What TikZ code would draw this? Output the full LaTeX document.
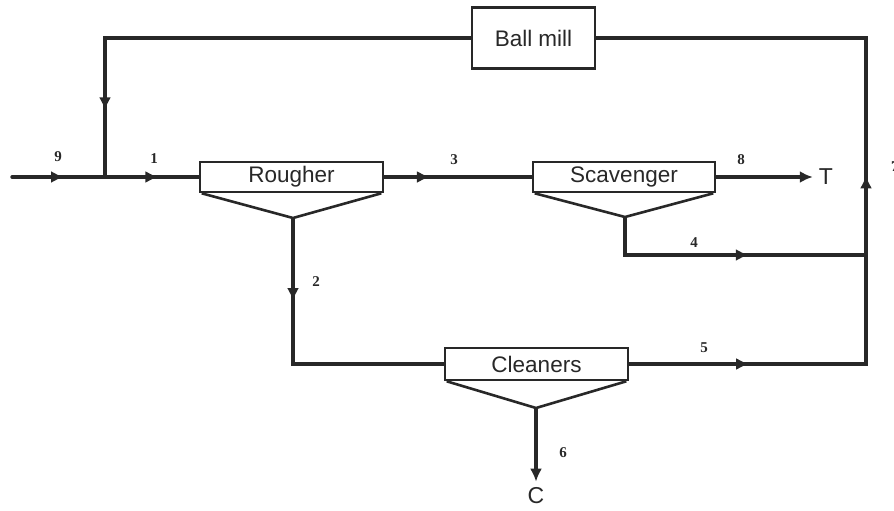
\documentclass[tikz,border=0pt]{standalone}
\usepackage{fontspec}
\setmainfont{Liberation Sans}
\newfontfamily\numfont{Liberation Serif}
\usetikzlibrary{arrows.meta,decorations.markings}
\definecolor{ink}{RGB}{40,40,40}
\tikzset{
  flow/.style={draw=ink,line width=3.4pt,line join=miter},
  tip/.style={-{Latex[length=13pt,width=12pt]}},
  arrowat/.style={postaction={decorate,decoration={markings,
      mark=at position #1 with {\arrow{Latex[length=13pt,width=12pt]}}}}},
  twoarrows/.style 2 args={postaction={decorate,decoration={markings,
      mark=at position #1 with {\arrow{Latex[length=13pt,width=12pt]}},
      mark=at position #2 with {\arrow{Latex[length=13pt,width=12pt]}}}}},
  unit/.style={draw=ink,line width=2.6pt,inner sep=0pt,
      font=\fontsize{22.5pt}{24pt}\selectfont,text=ink},
  hopper/.style={draw=ink,line width=2.6pt,line join=miter},
  num/.style={font=\numfont\bfseries\fontsize{15pt}{16pt}\selectfont,text=ink,inner sep=0pt},
  endlab/.style={font=\fontsize{23pt}{24pt}\selectfont,text=ink,inner sep=0pt},
}
\begin{document}
\begin{tikzpicture}[x=1pt,y=-1pt]
\useasboundingbox (0,0) rectangle (894,511);
% units
\node[unit,minimum width=183pt,minimum height=30pt] (rough) at (291.5,177) {Rougher};
\node[unit,minimum width=182pt,minimum height=30pt] (scav) at (624,177) {Scavenger};
\node[unit,minimum width=183pt,minimum height=32pt] (clean) at (536.5,364) {Cleaners};
\node[unit,minimum width=123pt,minimum height=61pt] (mill) at (533.5,38) {Ball mill};
% hopper apexes
\coordinate (rA) at (293,218);
\coordinate (sA) at (625,217);
\coordinate (cA) at (536,408);
\draw[hopper] ([xshift=3pt]rough.south west) -- (rA) -- ([xshift=-3pt]rough.south east);
\draw[hopper] ([xshift=3pt]scav.south west) -- (sA) -- ([xshift=-3pt]scav.south east);
\draw[hopper] ([xshift=3pt]clean.south west) -- (cA) -- ([xshift=-3pt]clean.south east);
% end nodes
\node[endlab] (T) at (826,177) {T};
\node[endlab] (C) at (536,496) {C};
% routing coordinates
\coordinate (in) at (12,177);
\coordinate (j) at (105,177);
\coordinate (tl) at (105,38);
\coordinate (tr) at (866,38);
\coordinate (r4) at (866,255);
\coordinate (r5) at (866,364);
% streams
\draw[flow,line cap=round,arrowat=0.56] (in) -- (j);
\draw[flow,arrowat=0.57] (j) -- (rough.west);
\draw[flow,arrowat=0.868] (mill.west) -- (tl) -- (j);
\draw[flow,arrowat=0.31] (rough.east) -- (scav.west);
\draw[flow,tip] (scav.east) -- ([xshift=-6pt]T.west);
\draw[flow,arrowat=0.58] (sA) -- (sA |- r4) -- (r4);
\draw[flow,arrowat=0.28] (rA) -- (rA |- clean.west) -- (clean.west);
\draw[flow,twoarrows={0.144}{0.511}] (clean.east) -- (r5) -- (r4) -- (tr) -- (mill.east);
\draw[flow,tip] (cA) -- ([yshift=6pt]C.north);
% stream labels
\node[num] (n9) at (58,157) {9};
\node[num] (n1) at (154,159) {1};
\node[num] (n3) at (454,160) {3};
\node[num] (n8) at (741,160) {8};
\node[num] (n4) at (694,243) {4};
\node[num] (n2) at (316,282) {2};
\node[num] (n5) at (704,348) {5};
\node[num] (n6) at (563,453) {6};
\node[num,anchor=north west] (n7) at (891,161) {7};
\end{tikzpicture}
\end{document}
